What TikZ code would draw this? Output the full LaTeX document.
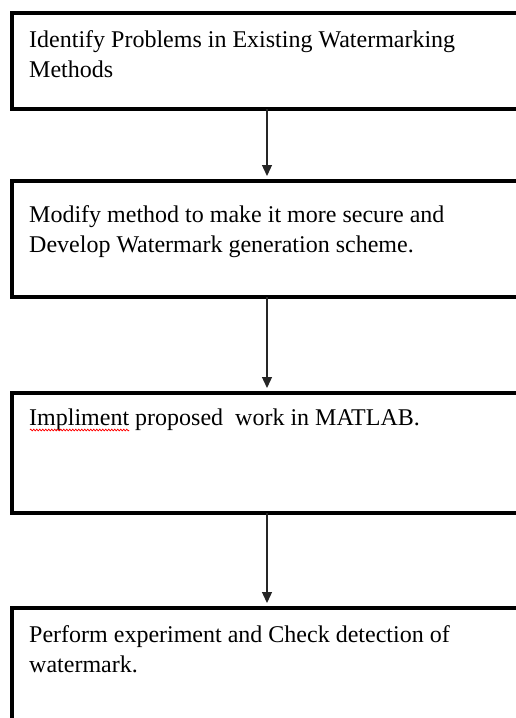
\documentclass[tikz,border=0pt]{standalone}
\usepackage{fontspec}
\setmainfont{Liberation Serif}
\usetikzlibrary{arrows.meta,decorations.pathmorphing}
\tikzset{
  stepbox/.style={draw=black, line width=3.8pt, rectangle, inner sep=0pt, outer sep=0pt,
    anchor=north west, minimum width=540pt},
  boxtext/.style={anchor=base west, inner sep=0pt, font=\fontsize{24}{30}\selectfont, text=black},
  flowarrow/.style={draw=black!85, line width=1.3pt, -{Triangle[width=10pt,length=11pt]}, shorten >=5pt},
}
\begin{document}
\begin{tikzpicture}[x=1pt,y=-1pt]
\useasboundingbox (0,0) rectangle (516,718);
\fill[white] (0,0) rectangle (516,718);
\clip (0,0) rectangle (516,718);
% boxes
\node[stepbox, minimum height=96pt]  (box1) at (12,13)  {};
\node[stepbox, minimum height=116pt] (box2) at (12,181) {};
\node[stepbox, minimum height=120pt] (box3) at (12,393) {};
\node[stepbox, minimum height=140pt] (box4) at (12,608) {};
% texts
\node[boxtext] (t1a) at (29,47)  {Identify Problems in Existing Watermarking};
\node[boxtext] (t1b) at (29,77)  {Methods};
\node[boxtext] (t2a) at (29,222) {Modify method to make it more secure and};
\node[boxtext] (t2b) at (29,252) {Develop Watermark generation scheme.};
\node[boxtext] (t3a) at (29,425) {Impliment proposed\ \ work in MATLAB.};
\node[boxtext] (t4a) at (29,642) {Perform experiment and Check detection of};
\node[boxtext] (t4b) at (29,672) {watermark.};
% spell-check underline
\coordinate (u1) at (30,430);
\coordinate (u2) at (129,430);
\draw[red, line width=0.7pt, decorate, decoration={zigzag, amplitude=0.9pt, segment length=3pt}] (u1) -- (u2);
% arrows
\coordinate (ax) at (267,0);
\draw[flowarrow] (box1.south -| ax) -- (box2.north -| ax);
\draw[flowarrow] (box2.south -| ax) -- (box3.north -| ax);
\draw[flowarrow] (box3.south -| ax) -- (box4.north -| ax);
\end{tikzpicture}
\end{document}
